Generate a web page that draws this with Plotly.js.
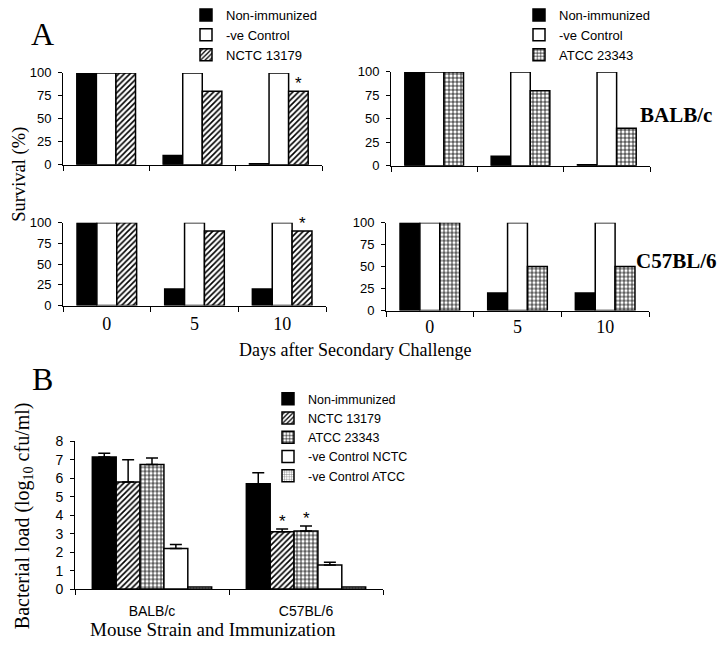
<!DOCTYPE html>
<html>
<head>
<meta charset="utf-8">
<script src="https://cdn.plot.ly/plotly-3.0.1.min.js"></script>
<style>
  body { margin: 0; background: #fff; }
  #chart { width: 724px; height: 656px; }
</style>
</head>
<body>
<div id="chart"></div>
<script>
// panel A – survival (%) after secondary challenge
const days = ['0', '5', '10'];
const balbNonImm = [100, 10, 1];
const balbNegCtrl = [100, 100, 100];
const balbNctc = [100, 80, 80];
const balbAtcc = [100, 80, 40];
const c57NonImm = [100, 20, 20];
const c57NegCtrl = [100, 100, 100];
const c57Nctc = [100, 90, 90];
const c57Atcc = [100, 50, 50];

// panel B – bacterial load (log10 cfu/ml)
const strains = ['BALB/c', 'C57BL/6'];
const loadNames = ['Non-immunized', 'NCTC 13179', 'ATCC 23343', '-ve Control NCTC', '-ve Control ATCC'];
const loadNonImm = [7.15, 5.7];
const loadNonImmErr = [0.2, 0.6];
const loadNctc = [5.8, 3.1];
const loadNctcErr = [1.2, 0.15];
const loadAtcc = [6.75, 3.15];
const loadAtccErr = [0.35, 0.27];
const loadCtrlNctc = [2.2, 1.3];
const loadCtrlNctcErr = [0.22, 0.15];
const loadCtrlAtcc = [0.12, 0.12];

const W = 724, H = 656;
const SERIF = 'Liberation Serif, Times New Roman, serif';
const SANS = 'Liberation Sans, Arial, sans-serif';
const BARGAP = 0.32;

const fills = {
  black: { color: 'black' },
  white: { color: 'white' },
  hatch: { color: 'white', pattern: { shape: '/', fgcolor: 'black', bgcolor: 'white', size: 4, solidity: 0.4 } },
  grid: { color: 'white', pattern: { shape: '+', fgcolor: 'black', bgcolor: 'white', size: 4, solidity: 0.35 } },
  fine: { color: 'white', pattern: { shape: '+', fgcolor: '#777', bgcolor: 'white', size: 3, solidity: 0.3 } }
};

// pixel boxes -> paper domains
const px = (a, b) => [a / W, b / W];
const py = (top, bottom) => [1 - bottom / H, 1 - top / H];

const boxes = {
  a1: { x: px(63, 322), y: py(72, 164) },
  a2: { x: px(391, 650), y: py(71, 165) },
  a3: { x: px(63, 326), y: py(222, 305) },
  a4: { x: px(386, 649), y: py(222, 310) },
  b: { x: px(75, 383), y: py(441, 589) }
};

function bar(name, x, y, fill, xa, ya, legend, showlegend) {
  return {
    type: 'bar', name, x, y,
    xaxis: xa, yaxis: ya,
    legend, showlegend,
    marker: Object.assign({ line: { color: 'black', width: 1.5 } }, fill),
    hoverinfo: 'skip'
  };
}

const traces = [];
function survivalPanel(n, nonImm, negCtrl, vacc, vaccName, vaccFill, legend) {
  const xa = 'x' + (n === 1 ? '' : n), ya = 'y' + (n === 1 ? '' : n);
  const show = !!legend;
  traces.push(bar('Non-immunized', days, nonImm, fills.black, xa, ya, legend || 'legend', show));
  traces.push(bar('-ve Control', days, negCtrl, fills.white, xa, ya, legend || 'legend', show));
  traces.push(bar(vaccName, days, vacc, vaccFill, xa, ya, legend || 'legend', show));
}
survivalPanel(1, balbNonImm, balbNegCtrl, balbNctc, 'NCTC 13179', fills.hatch, 'legend');
survivalPanel(2, balbNonImm, balbNegCtrl, balbAtcc, 'ATCC 23343', fills.grid, 'legend2');
survivalPanel(3, c57NonImm, c57NegCtrl, c57Nctc, 'NCTC 13179', fills.hatch, null);
survivalPanel(4, c57NonImm, c57NegCtrl, c57Atcc, 'ATCC 23343', fills.grid, null);

// panel B bars, explicit width / offset so the group is wider than in panel A
const bw = 0.155;
const loadSeries = [
  [loadNonImm, loadNonImmErr, fills.black],
  [loadNctc, loadNctcErr, fills.hatch],
  [loadAtcc, loadAtccErr, fills.grid],
  [loadCtrlNctc, loadCtrlNctcErr, fills.white],
  [loadCtrlAtcc, null, fills.fine]
];
loadSeries.forEach(([vals, err, fill], i) => {
  const t = bar(loadNames[i], strains, vals, fill, 'x5', 'y5', 'legend3', true);
  t.width = bw;
  t.offset = -2.5 * bw + i * bw;
  if (err) {
    t.error_y = { type: 'data', symmetric: false, array: err, arrayminus: err.map(() => 0),
      color: 'black', thickness: 1.5, width: 6 };
  }
  traces.push(t);
});

function xAxis(box, labels, font, standoff) {
  return {
    domain: box.x, type: 'category',
    showline: true, linecolor: 'black', linewidth: 1,
    ticks: 'outside', tickson: 'boundaries', ticklen: 5, tickcolor: 'black',
    showgrid: false, zeroline: false, fixedrange: true,
    showticklabels: labels,
    tickfont: Object.assign({ color: 'black' }, font || {}),
    ticklabelstandoff: standoff || 0
  };
}
function yAxis(box, range, dtick, fontSize) {
  return {
    domain: box.y, range, dtick, tick0: 0,
    showline: true, linecolor: 'black', linewidth: 1,
    ticks: 'outside', ticklen: 4, tickcolor: 'black',
    showgrid: false, zeroline: false, fixedrange: true,
    tickfont: { family: SANS, size: fontSize, color: 'black' },
    ticklabelstandoff: 4
  };
}

const layout = {
  width: W, height: H,
  margin: { l: 0, r: 0, t: 0, b: 0 },
  paper_bgcolor: 'white', plot_bgcolor: 'white',
  barmode: 'group', bargap: BARGAP, bargroupgap: 0,
  font: { family: SANS, color: 'black' },
  xaxis: Object.assign(xAxis(boxes.a1, false), { anchor: 'y' }),
  yaxis: Object.assign(yAxis(boxes.a1, [0, 100], 25, 13), { anchor: 'x' }),
  xaxis2: Object.assign(xAxis(boxes.a2, false), { anchor: 'y2' }),
  yaxis2: Object.assign(yAxis(boxes.a2, [0, 100], 25, 13), { anchor: 'x2' }),
  xaxis3: Object.assign(xAxis(boxes.a3, true, { family: SERIF, size: 18 }, 2), { anchor: 'y3' }),
  yaxis3: Object.assign(yAxis(boxes.a3, [0, 100], 25, 13), { anchor: 'x3' }),
  xaxis4: Object.assign(xAxis(boxes.a4, true, { family: SERIF, size: 18 }, 0), { anchor: 'y4' }),
  yaxis4: Object.assign(yAxis(boxes.a4, [0, 100], 25, 13), { anchor: 'x4' }),
  xaxis5: Object.assign(xAxis(boxes.b, true, { family: SANS, size: 14 }, 9), { anchor: 'y5' }),
  yaxis5: Object.assign(yAxis(boxes.b, [0, 8], 1, 14), { anchor: 'x5' }),
  legend: { x: 186 / W, y: 1 + 1 / H, xanchor: 'left', yanchor: 'top', bgcolor: 'rgba(0,0,0,0)',
    font: { family: SANS, size: 13 }, tracegroupgap: 0 },
  legend2: { x: 519 / W, y: 1 + 1 / H, xanchor: 'left', yanchor: 'top', bgcolor: 'rgba(0,0,0,0)',
    font: { family: SANS, size: 13 }, tracegroupgap: 0 },
  legend3: { x: 268 / W, y: 1 - 384 / H, xanchor: 'left', yanchor: 'top', bgcolor: 'rgba(0,0,0,0)',
    font: { family: SANS, size: 12.5 }, tracegroupgap: 0 },
  annotations: [],
  showlegend: true
};

const ann = layout.annotations;
const txt = (text, x, y, size, opts) => ann.push(Object.assign({
  text, x: x / W, y: 1 - y / H, xref: 'paper', yref: 'paper', showarrow: false,
  xanchor: 'center', yanchor: 'middle',
  font: { family: SERIF, size, color: 'black' }
}, opts || {}));

txt('A', 42, 33, 32);
txt('B', 42, 379, 32);
txt('Survival (%)', 20, 174, 18.5, { textangle: -90 });
txt('Days after Secondary Challenge', 355, 350, 18);
txt('<b>BALB/c</b>', 676, 114, 21);
txt('<b>C57BL/6</b>', 676, 260, 21);
txt('Bacterial load (log<sub>10</sub> cfu/ml)', 23, 516, 20, { textangle: -90 });
txt('Mouse Strain and Immunization', 213, 629, 19);

// significance stars, placed on the bars they mark
function barPx(box) {
  const cat = (box.x[1] - box.x[0]) * W / days.length;
  return cat * (1 - BARGAP) / 3;
}
const star = (xa, ya, x, y, shift) => ann.push({
  text: '*', x, y, xref: xa, yref: ya, showarrow: false,
  xanchor: 'center', xshift: shift, yanchor: 'bottom', yshift: -4,
  font: { family: SANS, size: 17, color: 'black' }
});
const d10 = days.indexOf('10');
star('x', 'y', d10, balbNctc[d10], barPx(boxes.a1));
star('x3', 'y3', d10, c57Nctc[d10], barPx(boxes.a3));
const bPx = bw * (boxes.b.x[1] - boxes.b.x[0]) * W / strains.length;
const c57 = strains.indexOf('C57BL/6');
star('x5', 'y5', c57, loadNctc[c57] + loadNctcErr[c57], -bPx);
star('x5', 'y5', c57, loadAtcc[c57] + loadAtccErr[c57], 0);

Plotly.newPlot('chart', traces, layout, { displayModeBar: false, staticPlot: true });
</script>
</body>
</html>
